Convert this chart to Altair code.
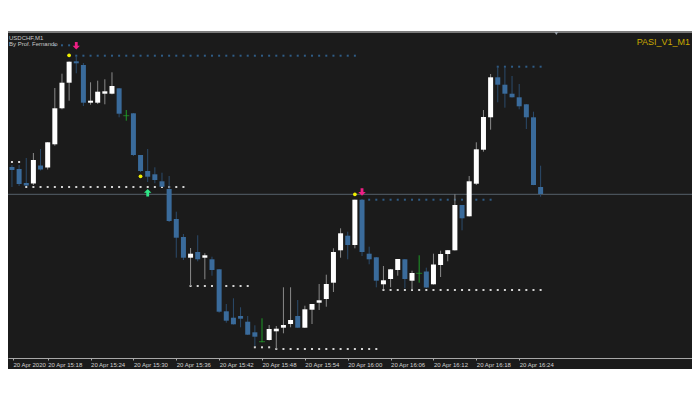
import altair as alt
import pandas as pd
import numpy as np

# ---- candle data (M1 bars, index = minutes since 15:12), prices in points ----
K = list(range(76))
OPEN = [198, 193, 191, 177, 176.5, 194.5, 192.5, 215.7, 251.7, 277.3,
        298.7, 295, 257.3, 257.3, 266.3, 266.3, 271.7, 244.3, 246.7, 205,
        189, 185.7, 178.7, 171, 141, 123, 102.3, 108, 102.3, 100.7,
        90.7, 48.7, 42.3, 44, 38.3, 27.7, 18.3, 20, 28.7, 32.3,
        36, 44, 32.3, 50.3, 57.3, 61, 77.3, 109.7, 124.3, 115,
        160.3, 106.3, 102.7, 75.7, 81, 90, 100.7, 79.3, 86.7, 88.5,
        75.7, 95, 106, 109.7, 155, 143.7, 176.3, 210.3, 242.7, 282.7,
        275.3, 266.3, 262.7, 255.7, 242.7, 173]
HIGH = [200, 195, 195, 202, 207, 211, 218, 272, 286.3, 298.5,
        303.3, 297, 277.7, 279.3, 280.7, 287.7, 272, 250, 247, 205,
        211, 192.7, 187.3, 184, 148.3, 126, 112, 124.7, 106.7, 103.3,
        91, 56, 61.7, 52.7, 44, 34.7, 41.7, 35, 34, 72.7,
        72.7, 60, 54.3, 56, 76, 85.3, 111.7, 131.7, 128.3, 160.3,
        161, 113.3, 103, 94, 91, 101, 101, 89.3, 104.7, 92.3,
        106.3, 109.3, 110, 165.8, 155, 184, 217.7, 250, 286, 293.3,
        292.7, 284, 276, 256, 248.3, 194.3]
LOW = [189, 173, 174, 174, 175, 189.5, 190.5, 214.3, 250.7, 259.3,
       286.7, 254, 255.3, 256, 255.7, 265.7, 242.7, 239.3, 204, 188,
       178, 176.7, 173, 138, 102.3, 100, 74, 98.7, 80.7, 84.3,
       47.3, 37.3, 35.5, 32.7, 25, 14, 17.7, 19.5, 10.7, 26.7,
       32.7, 32, 32, 36, 50, 53.3, 68, 102.3, 100.7, 111.7,
       104, 95.7, 72.7, 70.7, 72.7, 84.3, 71.7, 70, 77.3, 72,
       75.5, 83, 98.7, 109.5, 129.7, 143.5, 175, 208.3, 230.3, 257.7,
       252.3, 262.5, 250.7, 231, 174.8, 163.3]
CLOSE = [191, 190, 176, 174.5, 200, 190.5, 217.7, 251.7, 277.3, 298.3,
         296.7, 257.3, 259.3, 268.3, 268.7, 274, 246.3, 244.3, 205, 189,
         183.3, 180, 173.3, 139, 122.3, 102.3, 106.3, 100.7, 104.7, 90,
         48.3, 39.3, 35.7, 41.3, 25.3, 23.3, 18.3, 31, 31.3, 35,
         40, 32.3, 50.7, 56, 59.7, 76, 108, 126.7, 115, 160.3,
         108, 100.7, 79.3, 79.7, 90.7, 101, 81, 87, 86.7, 72.5,
         95.5, 106, 109.8, 155, 141.7, 178.7, 210.7, 243, 282.7, 275.3,
         266.3, 262.7, 253.7, 242.7, 175, 166]

# ---- time axis ----
TICK_K = [0, 6, 12, 18, 24, 30, 36, 42, 48, 54, 60, 66, 72]
TICK_LABELS = ["20 Apr 2020", "20 Apr 15:18", "20 Apr 15:24", "20 Apr 15:30",
               "20 Apr 15:36", "20 Apr 15:42", "20 Apr 15:48", "20 Apr 15:54",
               "20 Apr 16:00", "20 Apr 16:06", "20 Apr 16:12", "20 Apr 16:18",
               "20 Apr 16:24"]

# ---- indicator level lines (dotted) ----
LEVEL_PRICE = [198, 173, 314.7, 304.3, 74, 12.7, 11, 160.3, 70, 293.3]
LEVEL_FROM = [0, 3, 7, 10, 26, 35, 38, 51, 53, 69]
LEVEL_TO = [2, 25, 9, 49, 34, 37, 52, 68, 75, 75]
LEVEL_KIND = ["sup", "sup", "res", "res", "sup", "sup", "sup", "res", "sup", "res"]

# ---- signals ----
SIG_K = [10, 50, 20, 9, 19, 49]
SIG_P = [314.3, 168, 167.3, 304.7, 183.7, 165.7]
SIG_KIND = ["sell", "sell", "buy", "dot", "dot", "dot"]

BID = 165.7
SHIFT_K = 77.2

W, H = 684, 326
XDOM = [1.145, 95.490]
YDOM = [2, 328]

df = pd.DataFrame({"k": K, "o": OPEN, "h": HIGH, "l": LOW, "c": CLOSE})
df["dir"] = np.where(df.c > df.o, "up", np.where(df.c < df.o, "down", "doji"))
df["bot"] = df[["o", "c"]].min(axis=1)
df["top"] = df[["o", "c"]].max(axis=1)

lv_rows = []
for p, a, b, kind in zip(LEVEL_PRICE, LEVEL_FROM, LEVEL_TO, LEVEL_KIND):
    for k in range(a, b + 1):
        lv_rows.append({"k": k, "p": p, "kind": kind})
lv = pd.DataFrame(lv_rows)

sig = pd.DataFrame({"k": SIG_K, "p": SIG_P, "kind": SIG_KIND})

label_expr = "[" + ",".join("'%s'" % s for s in TICK_LABELS) + "][round(datum.value/6)]"

xscale = alt.Scale(domain=XDOM, nice=False, zero=False)
yscale = alt.Scale(domain=YDOM, nice=False, zero=False)
X = alt.X("k:Q", scale=xscale, title=None,
          axis=alt.Axis(values=[XDOM[0]] + TICK_K[1:], labelExpr=label_expr,
                        grid=False, domainColor="#a8a8a8", tickColor="#a8a8a8",
                        tickSize=2, labelPadding=1, labelAlign="left",
                        labelBaseline="top", labelFont="Liberation Sans",
                        labelFontSize=6, labelColor="#d2d2d2",
                        labelOverlap=False, labelFlush=False))

def Y(field):
    return alt.Y(field, scale=yscale, axis=None, title=None)

top_white = alt.Chart(pd.DataFrame({"a": [0]})).mark_rect(color="white").encode(
    x=alt.value(-10), x2=alt.value(W + 10), y=alt.value(-60), y2=alt.value(-1))
top_border = alt.Chart(pd.DataFrame({"a": [0]})).mark_rule(color="#7c7c7c", strokeWidth=2).encode(
    x=alt.value(0), x2=alt.value(W), y=alt.value(0))

bid = alt.Chart(pd.DataFrame({"p": [BID]})).mark_rule(color="#56616b", strokeWidth=1).encode(
    y=Y("p:Q"))

levels = alt.Chart(lv).mark_point(shape="square", filled=True, size=4, opacity=1).encode(
    x=X, y=Y("p:Q"),
    color=alt.Color("kind:N", scale=alt.Scale(domain=["sup", "res"], range=["#d4d4d4", "#2f5c86"]),
                    legend=None))

wicks = alt.Chart(df).mark_rule(strokeWidth=1).encode(
    x=X, y=Y("l:Q"), y2="h:Q",
    color=alt.Color("dir:N", scale=alt.Scale(domain=["up", "down", "doji"],
                                             range=["#8a8a8a", "#2b4b6b", "#1f9a26"]), legend=None))

bodies = alt.Chart(df[df.dir != "doji"]).mark_bar(size=5).encode(
    x=X, y=Y("bot:Q"), y2="top:Q",
    color=alt.Color("dir:N", scale=alt.Scale(domain=["up", "down"], range=["#ffffff", "#3a6b9b"]),
                    legend=None))

doji = alt.Chart(df[df.dir == "doji"]).mark_tick(orient="horizontal", size=6, thickness=1,
                                                  color="#22a22a").encode(
    x=X, y=Y("o:Q"))

DOWN_ARROW = "M-0.38,-1L0.38,-1L0.38,0L1,0L0,1L-1,0L-0.38,0Z"
UP_ARROW = "M-0.38,1L0.38,1L0.38,0L1,0L0,-1L-1,0L-0.38,0Z"
sells = alt.Chart(sig[sig.kind == "sell"]).mark_point(shape=DOWN_ARROW, filled=True, size=55,
                                                      opacity=1, color="#ef1f85").encode(
    x=X, y=Y("p:Q"))
buys = alt.Chart(sig[sig.kind == "buy"]).mark_point(shape=UP_ARROW, filled=True, size=55,
                                                    opacity=1, color="#2fe585").encode(
    x=X, y=Y("p:Q"))
dots = alt.Chart(sig[sig.kind == "dot"]).mark_point(shape="circle", filled=True, size=14,
                                                    opacity=1, color="#f0f000").encode(
    x=X, y=Y("p:Q"))

shift = alt.Chart(pd.DataFrame({"k": [SHIFT_K]})).mark_point(
    shape="triangle-down", filled=True, size=14, opacity=1, color="#9aa2aa").encode(
    x=X, y=alt.value(1.5))

txt = alt.Chart(pd.DataFrame({"t": ["USDCHF,M1", "By Prof. Fernando"], "yy": [8, 13.5]})).mark_text(
    align="left", baseline="alphabetic", font="Liberation Sans", fontSize=6, color="#c8c8c8").encode(
    x=alt.value(1), y=alt.Y("yy:Q", scale=None), text="t:N")

name = alt.Chart(pd.DataFrame({"t": ["PASI_V1_M1"]})).mark_text(
    align="right", baseline="alphabetic", font="Liberation Sans", fontSize=9, color="#c9a900").encode(
    x=alt.value(W - 2), y=alt.value(12.5), text="t:N")

chart = alt.layer(top_white, top_border, bid, levels, wicks, bodies, doji, sells, buys, dots,
                  shift, txt, name).resolve_scale(color="independent").properties(
    width=W, height=H,
    autosize=alt.AutoSizeParams(type="none"),
    padding={"top": 24, "bottom": 11, "left": 0, "right": 0},
    background="#1b1b1b",
).configure_view(stroke=None)

chart.save("out.html", embed_options={"renderer": "svg", "actions": False})
